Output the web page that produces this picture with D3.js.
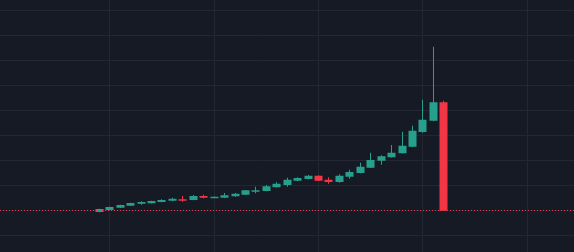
<!DOCTYPE html>
<html>
<head>
<meta charset="utf-8">
<script src="https://cdn.jsdelivr.net/npm/d3@7"></script>
<style>
  html, body { margin: 0; padding: 0; background: #161a25; overflow: hidden; }
  #chart { width: 574px; height: 252px; }
</style>
</head>
<body>
<div id="chart"></div>
<script>
// candle data, oldest first
var opens  = [-0.08, 0.00, 0.09, 0.17, 0.25, 0.27, 0.32, 0.37, 0.43, 0.40, 0.56, 0.49, 0.49, 0.55, 0.61, 0.77, 0.76,
              0.91, 1.00, 1.17, 1.24, 1.37, 1.21, 1.12, 1.33, 1.48, 1.69, 1.97, 2.11, 2.27, 2.53, 3.12, 3.57, 4.31];
var highs  = [ 0.05, 0.13, 0.21, 0.29, 0.35, 0.37, 0.43, 0.49, 0.56, 0.60, 0.61, 0.54, 0.68, 0.68, 0.80, 0.93, 1.00,
              1.12, 1.29, 1.31, 1.40, 1.39, 1.31, 1.43, 1.61, 1.89, 2.29, 2.19, 2.60, 3.13, 3.37, 4.41, 6.53, 4.37];
var lows   = [-0.09,-0.01, 0.08, 0.16, 0.21, 0.26, 0.31, 0.35, 0.33, 0.39, 0.47, 0.48, 0.48, 0.53, 0.60, 0.67, 0.75,
              0.90, 0.93, 1.15, 1.23, 1.16, 1.05, 1.09, 1.25, 1.47, 1.68, 1.81, 2.10, 2.26, 2.52, 3.09, 3.55, -0.03];
var closes = [ 0.04, 0.12, 0.20, 0.28, 0.32, 0.36, 0.40, 0.45, 0.40, 0.56, 0.49, 0.53, 0.59, 0.65, 0.79, 0.79, 0.95,
              1.05, 1.21, 1.28, 1.37, 1.17, 1.12, 1.37, 1.52, 1.73, 2.00, 2.15, 2.29, 2.57, 3.17, 3.61, 4.31, -0.03];

// vertical grid every 10 bars, horizontal grid every price step
var timeGrid  = [1, 11, 21, 31, 41];
var priceGrid = [-1, 0, 1, 2, 3, 4, 5, 6, 7, 8];

var width = 574, height = 252;
var upColor = "#26a08c", downColor = "#f23645";

var data = opens.map(function(o, i) {
  return { i: i, open: o, high: highs[i], low: lows[i], close: closes[i] };
});

var x = d3.scaleLinear().domain([0, 33]).range([98.8, 443.3]);
var y = d3.scaleLinear().domain([-1, 8]).range([235, 10]);

var svg = d3.select("#chart").append("svg")
    .attr("width", width)
    .attr("height", height);

svg.append("rect")
    .attr("width", width)
    .attr("height", height)
    .attr("fill", "#161a25");

// grid
svg.append("g").selectAll("line")
    .data(priceGrid)
  .enter().append("line")
    .attr("x1", 0).attr("x2", width)
    .attr("y1", function(d) { return Math.round(y(d)) + 0.5; })
    .attr("y2", function(d) { return Math.round(y(d)) + 0.5; })
    .attr("stroke", "#232733")
    .attr("stroke-width", 1);

svg.append("g").selectAll("line")
    .data(timeGrid)
  .enter().append("line")
    .attr("y1", 0).attr("y2", height)
    .attr("x1", function(d) { return Math.round(x(d)) + 0.5; })
    .attr("x2", function(d) { return Math.round(x(d)) + 0.5; })
    .attr("stroke", "#232733")
    .attr("stroke-width", 1);

function col(d) { return d.close >= d.open ? upColor : downColor; }

var candle = svg.append("g").selectAll("g")
    .data(data)
  .enter().append("g");

// wicks
candle.append("line")
    .attr("x1", function(d) { return Math.round(x(d.i)) + 0.5; })
    .attr("x2", function(d) { return Math.round(x(d.i)) + 0.5; })
    .attr("y1", function(d) { return y(d.high); })
    .attr("y2", function(d) { return y(d.low); })
    .attr("stroke", col)
    .attr("stroke-width", 1);

// bodies
var bw = 8;
candle.append("rect")
    .attr("x", function(d) { return Math.round(x(d.i)) + 0.5 - bw / 2; })
    .attr("width", bw)
    .attr("y", function(d) { return y(Math.max(d.open, d.close)); })
    .attr("height", function(d) { return Math.max(1.5, Math.abs(y(d.open) - y(d.close))); })
    .attr("fill", col);

// last price line
var last = closes[closes.length - 1];
svg.append("line")
    .attr("x1", 0).attr("x2", width)
    .attr("y1", Math.round(y(last)) - 0.5)
    .attr("y2", Math.round(y(last)) - 0.5)
    .attr("stroke", downColor)
    .attr("stroke-width", 1)
    .attr("stroke-dasharray", "1,2");
</script>
</body>
</html>
